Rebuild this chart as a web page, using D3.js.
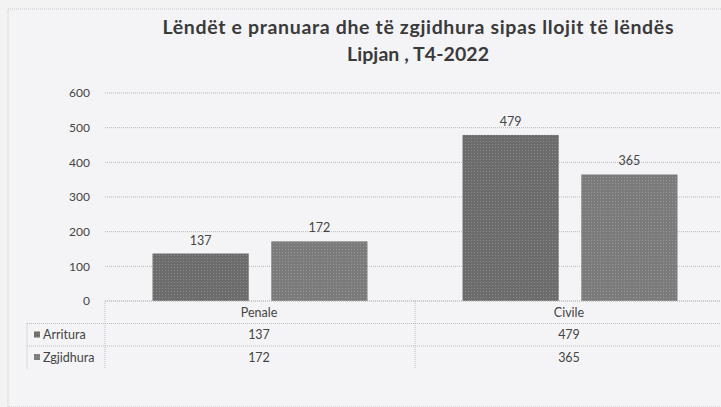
<!DOCTYPE html>
<html><head><meta charset="utf-8">
<script src="https://cdn.jsdelivr.net/npm/d3@7"></script>
<style>body{margin:0;background:#f3f3f4;}svg{display:block;}</style>
</head><body>
<svg id="c" width="721" height="407"></svg>
<script>
const categories = ["Penale", "Civile"];
const seriesNames = ["Arritura", "Zgjidhura"];
const arritura = [137, 479];
const zgjidhura = [172, 365];
const yTicks = [0, 100, 200, 300, 400, 500, 600];
const titleLines = ["Lëndët e pranuara dhe të zgjidhura sipas llojit të lëndës", "Lipjan , T4-2022"];

(function () {
const series = [arritura, zgjidhura];
const colors = ["#6c6c6c", "#7b7b7b"];
const svg = d3.select("#c");
const font = "Lato, 'Open Sans', sans-serif";
const txt = "#444";

const defs = svg.append("defs");
colors.forEach((c, i) => {
  const p = defs.append("pattern").attr("id", "pat" + i).attr("width", 3).attr("height", 3).attr("patternUnits", "userSpaceOnUse");
  p.append("rect").attr("width", 3).attr("height", 3).attr("fill", c);
  p.append("rect").attr("width", 1).attr("height", 1).attr("fill", i === 0 ? "#8a8a8a" : "#959595");
});

svg.append("rect").attr("x", 8).attr("y", 9).attr("width", 720).attr("height", 398)
  .attr("fill", "#f4f4f6").attr("stroke", "#c8c8c8").attr("stroke-dasharray", "1,1");

const pLeft = 105, pRight = 725, pTop = 93, pBottom = 301;
const x0 = d3.scaleBand().domain(categories).range([pLeft, pRight]).paddingInner(0).paddingOuter(0);
const x1 = d3.scaleBand().domain(seriesNames).range([0, x0.bandwidth()]).paddingInner(0.19).paddingOuter(0.4);
const y = d3.scaleLinear().domain([0, 600]).range([pBottom, pTop]);

svg.append("g").selectAll("line").data(yTicks).join("line")
  .attr("x1", pLeft).attr("x2", 721).attr("y1", d => y(d)).attr("y2", d => y(d))
  .attr("stroke", "#b9b9b9").attr("stroke-dasharray", "1,1");

const yAxis = d3.axisLeft(y).tickValues(yTicks).tickSize(0).tickPadding(0);
const ga = svg.append("g").attr("transform", `translate(${pLeft - 15},0)`).call(yAxis);
ga.select(".domain").remove();
ga.selectAll("text").attr("font-family", font).attr("font-size", 12).attr("fill", txt);

categories.forEach((cat, ci) => {
  seriesNames.forEach((s, si) => {
    const v = series[si][ci];
    const bx = x0(cat) + x1(s);
    svg.append("rect").attr("x", bx).attr("y", y(v)).attr("width", x1.bandwidth()).attr("height", y(0) - y(v))
      .attr("fill", `url(#pat${si})`);
    svg.append("text").attr("x", bx + x1.bandwidth() / 2).attr("y", y(v) - 9).attr("text-anchor", "middle")
      .attr("font-family", font).attr("font-size", 12.5).attr("fill", txt).text(v);
  });
});

// data table
const rowH = 22.5;
const tLeft = 27;
const g = svg.append("g").attr("stroke", "#bdbdbd").attr("stroke-dasharray", "1,1");
g.append("line").attr("x1", pLeft).attr("x2", 721).attr("y1", pBottom).attr("y2", pBottom);
[1, 2].forEach(r => g.append("line").attr("x1", tLeft).attr("x2", 721).attr("y1", pBottom + rowH * r).attr("y2", pBottom + rowH * r));
g.append("line").attr("x1", tLeft).attr("x2", tLeft).attr("y1", pBottom + rowH).attr("y2", pBottom + rowH * 3);
g.append("line").attr("x1", pLeft).attr("x2", pLeft).attr("y1", pBottom).attr("y2", pBottom + rowH * 3);
g.append("line").attr("x1", x0("Civile")).attr("x2", x0("Civile")).attr("y1", pBottom).attr("y2", pBottom + rowH * 3);

categories.forEach(cat => {
  svg.append("text").attr("x", x0(cat) + x0.bandwidth() / 2 - 1).attr("y", pBottom + 16).attr("text-anchor", "middle")
    .attr("font-family", font).attr("font-size", 12.5).attr("fill", txt).text(cat);
});
seriesNames.forEach((s, si) => {
  const ry = pBottom + rowH * (si + 1);
  svg.append("rect").attr("x", tLeft + 7).attr("y", ry + 8).attr("width", 6).attr("height", 6).attr("fill", `url(#pat${si})`);
  svg.append("text").attr("x", tLeft + 16).attr("y", ry + 15.5).attr("font-family", font).attr("font-size", 12.5).attr("fill", txt).text(s);
  categories.forEach((cat, ci) => {
    svg.append("text").attr("x", x0(cat) + x0.bandwidth() / 2 - 1).attr("y", ry + 15.5).attr("text-anchor", "middle")
      .attr("font-family", font).attr("font-size", 12.5).attr("fill", txt).text(series[si][ci]);
  });
});

const tl = [511, 142];
titleLines.forEach((t, i) => {
  svg.append("text").attr("x", 418).attr("y", 34 + i * 27).attr("text-anchor", "middle")
    .attr("font-family", font).attr("font-weight", "bold").attr("font-size", 19.5).attr("fill", "#3a3a3a")
    .attr("textLength", tl[i]).attr("lengthAdjust", "spacing").text(t);
});
})();
</script>
</body></html>
